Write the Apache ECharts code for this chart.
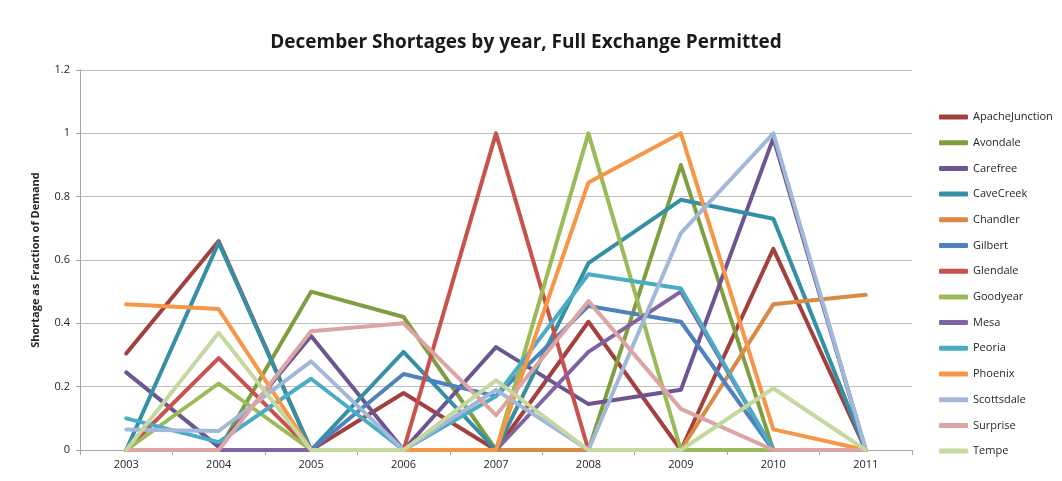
<!DOCTYPE html>
<html>
<head>
<meta charset="utf-8">
<title>December Shortages by year</title>
<script src="https://cdn.jsdelivr.net/npm/echarts@6/dist/echarts.min.js"></script>
<style>
  html, body { margin: 0; padding: 0; background: #ffffff; }
  #chart { width: 1062px; height: 481px; }
</style>
</head>
<body>
<div id="chart"></div>
<script>
// Years on the category axis
const years = ['2003', '2004', '2005', '2006', '2007', '2008', '2009', '2010', '2011'];

// Shortage as a fraction of demand, one array per city
const ApacheJunction = [0.305, 0.66, 0, 0.18, 0, 0.405, 0, 0.635, 0];
const Avondale       = [0, 0, 0.5, 0.42, 0, 0, 0.9, 0, 0];
const Carefree       = [0.245, 0.01, 0.36, 0, 0.325, 0.145, 0.19, 0.985, 0];
const CaveCreek      = [0, 0.655, 0, 0.31, 0, 0.59, 0.79, 0.73, 0];
const Chandler       = [0, 0, 0, 0, 0, 0, 0, 0.46, 0.49];
const Gilbert        = [0, 0, 0, 0.24, 0.17, 0.455, 0.405, 0, 0];
const Glendale       = [0, 0.29, 0, 0, 1.0, 0, 0, 0, 0];
const Goodyear       = [0, 0.21, 0, 0, 0, 1.0, 0, 0, 0];
const Mesa           = [0, 0, 0, 0, 0, 0.31, 0.5, 0, 0];
const Peoria         = [0.1, 0.025, 0.225, 0, 0.17, 0.555, 0.51, 0, 0];
const Phoenix        = [0.46, 0.445, 0, 0, 0, 0.845, 1.0, 0.065, 0];
const Scottsdale     = [0.065, 0.06, 0.28, 0, 0.19, 0, 0.685, 1.0, 0];
const Surprise       = [0, 0, 0.375, 0.4, 0.11, 0.47, 0.13, 0, 0];
const Tempe          = [0, 0.37, 0, 0, 0.22, 0, 0, 0.195, 0];

const cityNames = ['ApacheJunction', 'Avondale', 'Carefree', 'CaveCreek', 'Chandler', 'Gilbert',
  'Glendale', 'Goodyear', 'Mesa', 'Peoria', 'Phoenix', 'Scottsdale', 'Surprise', 'Tempe'];
const cityValues = [ApacheJunction, Avondale, Carefree, CaveCreek, Chandler, Gilbert,
  Glendale, Goodyear, Mesa, Peoria, Phoenix, Scottsdale, Surprise, Tempe];
const cityColors = ['#a3403e', '#7f9e40', '#6c5591', '#3590a6', '#d98a45', '#4f81bd',
  '#c9514e', '#9bbb59', '#8064a2', '#4bacc6', '#f79646', '#a2b8d9', '#dca4a2', '#c6d8a0'];

const FONT = '"Open Sans", "Liberation Sans", sans-serif';

const chart = echarts.init(document.getElementById('chart'), null, { renderer: 'canvas' });

chart.setOption({
  animation: false,
  backgroundColor: '#ffffff',
  color: cityColors,
  title: {
    text: 'December Shortages by year, Full Exchange Permitted',
    left: 521,
    textAlign: 'center',
    top: 28,
    textStyle: { fontFamily: FONT, fontSize: 19, fontWeight: 'bold', color: '#1a1a1a' }
  },
  grid: { left: 80, right: 150, top: 70, bottom: 31, containLabel: false },
  legend: {
    orient: 'vertical',
    left: 934,
    top: 105,
    itemWidth: 29,
    itemHeight: 5,
    itemGap: 11.7,
    icon: 'roundRect',
    textStyle: { fontFamily: FONT, fontSize: 11, color: '#262626', lineHeight: 14 },
    data: cityNames
  },
  xAxis: {
    type: 'category',
    data: years,
    boundaryGap: true,
    axisLine: { show: true, lineStyle: { color: '#a6a6a6', width: 1 } },
    axisTick: { show: true, length: 5, lineStyle: { color: '#a6a6a6' } },
    axisLabel: { fontFamily: FONT, fontSize: 11, color: '#262626', margin: 9 },
    splitLine: { show: false }
  },
  yAxis: {
    type: 'value',
    min: 0,
    max: 1.2,
    interval: 0.2,
    name: 'Shortage as Fraction of Demand',
    nameLocation: 'middle',
    nameRotate: 90,
    nameGap: 39,
    nameTextStyle: { fontFamily: FONT, fontSize: 11, fontWeight: 'bold', color: '#262626' },
    axisLine: { show: true, lineStyle: { color: '#a6a6a6', width: 1 } },
    axisTick: { show: true, length: 4, lineStyle: { color: '#a6a6a6' } },
    axisLabel: {
      fontFamily: FONT, fontSize: 11, color: '#262626', margin: 10,
      formatter: function (v) { return String(Math.round(v * 10) / 10); }
    },
    splitLine: { show: true, lineStyle: { color: '#bfbfbf', width: 1 } }
  },
  series: cityNames.map(function (name, i) {
    return {
      name: name,
      type: 'line',
      data: cityValues[i],
      showSymbol: false,
      symbol: 'none',
      lineStyle: { width: 4, color: cityColors[i], cap: 'round', join: 'round' },
      itemStyle: { color: cityColors[i] },
      emphasis: { disabled: true }
    };
  })
});
</script>
</body>
</html>
